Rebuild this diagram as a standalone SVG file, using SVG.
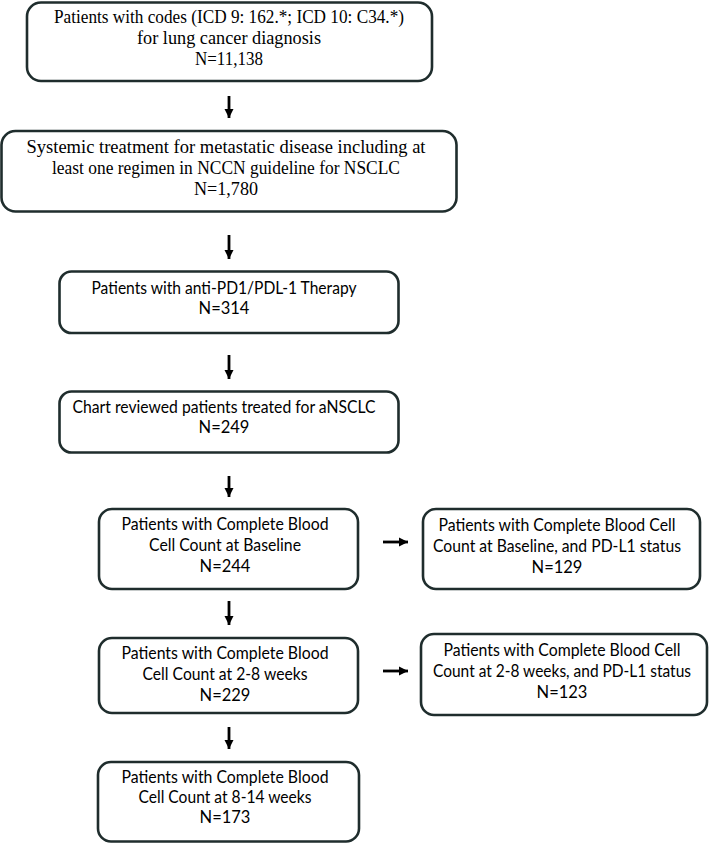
<svg xmlns="http://www.w3.org/2000/svg" width="711" height="843" viewBox="0 0 711 843">
<style>
.box{fill:#ffffff;stroke:#1f2d2d;stroke-width:2.6}
.serif{font-family:"Liberation Serif","DejaVu Serif",serif;font-size:18px;fill:#000;text-anchor:middle}
.sans{font-family:Lato,"Open Sans","Liberation Sans",sans-serif;font-size:16.5px;fill:#000;text-anchor:middle}
.arr{stroke:#000;stroke-width:2.8;fill:none;marker-end:url(#ah)}
</style>
<defs>
<marker id="ah" markerUnits="userSpaceOnUse" markerWidth="10" markerHeight="10" viewBox="0 0 10 10" refX="9" refY="5" orient="auto">
<path d="M0,0.5 L9,5 L0,9.5 Z" fill="#000"/>
</marker>
</defs>
<rect width="711" height="843" fill="#ffffff"/>
<g id="n1">
<rect class="box" x="27" y="2.5" width="405" height="78.5" rx="14"/>
<text class="serif" x="229" y="23" textLength="350" lengthAdjust="spacingAndGlyphs">Patients with codes (ICD 9: 162.*; ICD 10: C34.*)</text>
<text class="serif" x="229" y="44" textLength="184" lengthAdjust="spacingAndGlyphs">for lung cancer diagnosis</text>
<text class="serif" x="229" y="65" textLength="68" lengthAdjust="spacingAndGlyphs">N=11,138</text>
</g>
<g id="n2">
<rect class="box" x="1.5" y="131" width="455" height="80.5" rx="14"/>
<text class="serif" x="226" y="153" textLength="399" lengthAdjust="spacingAndGlyphs">Systemic treatment for metastatic disease including at</text>
<text class="serif" x="226" y="174" textLength="348" lengthAdjust="spacingAndGlyphs">least one regimen in NCCN guideline for NSCLC</text>
<text class="serif" x="226" y="195" textLength="64" lengthAdjust="spacingAndGlyphs">N=1,780</text>
</g>
<g id="n3">
<rect class="box" x="59.5" y="271.5" width="339" height="61.5" rx="12"/>
<text class="sans" x="224" y="294" textLength="265" lengthAdjust="spacingAndGlyphs">Patients with anti-PD1/PDL-1 Therapy</text>
<text class="sans" x="224" y="314">N=314</text>
</g>
<g id="n4">
<rect class="box" x="59.5" y="391.5" width="339" height="61" rx="12"/>
<text class="sans" x="224" y="413" textLength="303" lengthAdjust="spacingAndGlyphs">Chart reviewed patients treated for aNSCLC</text>
<text class="sans" x="224" y="433">N=249</text>
</g>
<g id="n5">
<rect class="box" x="99" y="509" width="259" height="80" rx="13"/>
<text class="sans" x="225" y="530" textLength="207" lengthAdjust="spacingAndGlyphs">Patients with Complete Blood</text>
<text class="sans" x="225" y="551" textLength="152" lengthAdjust="spacingAndGlyphs">Cell Count at Baseline</text>
<text class="sans" x="225" y="572">N=244</text>
</g>
<g id="n6">
<rect class="box" x="423" y="509" width="277" height="80" rx="13"/>
<text class="sans" x="557" y="531" textLength="237" lengthAdjust="spacingAndGlyphs">Patients with Complete Blood Cell</text>
<text class="sans" x="557" y="552" textLength="248" lengthAdjust="spacingAndGlyphs">Count at Baseline, and PD-L1 status</text>
<text class="sans" x="557" y="573">N=129</text>
</g>
<g id="n7">
<rect class="box" x="99" y="638" width="259" height="75" rx="13"/>
<text class="sans" x="225" y="659" textLength="207" lengthAdjust="spacingAndGlyphs">Patients with Complete Blood</text>
<text class="sans" x="225" y="680" textLength="165" lengthAdjust="spacingAndGlyphs">Cell Count at 2-8 weeks</text>
<text class="sans" x="225" y="701">N=229</text>
</g>
<g id="n8">
<rect class="box" x="421" y="634" width="286" height="81" rx="13"/>
<text class="sans" x="562" y="656" textLength="237" lengthAdjust="spacingAndGlyphs">Patients with Complete Blood Cell</text>
<text class="sans" x="562" y="677" textLength="258" lengthAdjust="spacingAndGlyphs">Count at 2-8 weeks, and PD-L1 status</text>
<text class="sans" x="562" y="698">N=123</text>
</g>
<g id="n9">
<rect class="box" x="98" y="762" width="261" height="79.5" rx="13"/>
<text class="sans" x="225" y="783" textLength="207" lengthAdjust="spacingAndGlyphs">Patients with Complete Blood</text>
<text class="sans" x="225" y="803" textLength="173" lengthAdjust="spacingAndGlyphs">Cell Count at 8-14 weeks</text>
<text class="sans" x="225" y="823">N=173</text>
</g>
<g id="connectors">
<line class="arr" x1="229" y1="96" x2="229" y2="118"/>
<line class="arr" x1="229" y1="235" x2="229" y2="259"/>
<line class="arr" x1="229" y1="355" x2="229" y2="379"/>
<line class="arr" x1="229" y1="476" x2="229" y2="497"/>
<line class="arr" x1="229" y1="601" x2="229" y2="625"/>
<line class="arr" x1="229" y1="727" x2="229" y2="749"/>
<line class="arr" x1="383" y1="542" x2="408" y2="542"/>
<line class="arr" x1="383" y1="671" x2="408" y2="671"/>
</g>
</svg>
